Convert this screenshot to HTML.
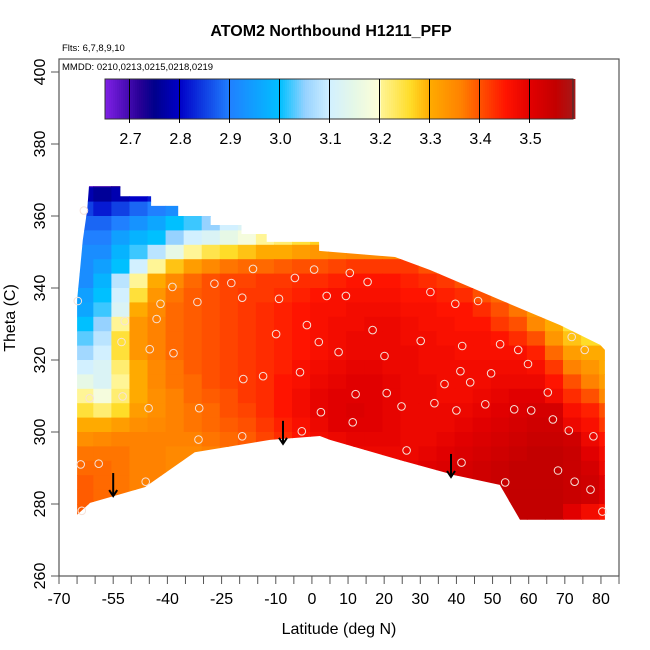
<!DOCTYPE html>
<html><head><meta charset="utf-8"><style>
html,body{margin:0;padding:0;background:#fff}
svg{display:block;font-family:"Liberation Sans",sans-serif}
</style></head><body>
<svg id="chart" width="650" height="650" viewBox="0 0 650 650"></svg>
<script>
const latEdges0 = -65.5, latStep = 5, thStep = 4;
const thetaRows = [368,364,360,356,352,348,344,340,336,332,328,324,320,316,312,308,304,300,296,292,288,284,280,276,272];
const valueGrid = [
[2.68,2.70,2.72,2.74,2.76,2.78,2.80,2.82,2.85,2.9,2.95,3.0,3.1,3.2,3.25,3.3,3.3,3.3,3.3,3.3,3.3,3.3,3.3,3.3,3.3,3.3,3.3,3.3,3.3,3.3],
[2.78,2.76,2.78,2.80,2.82,2.85,2.88,2.9,2.92,2.95,3.0,3.05,3.1,3.2,3.25,3.3,3.3,3.3,3.3,3.3,3.3,3.3,3.3,3.3,3.3,3.3,3.3,3.3,3.3,3.3],
[2.85,2.82,2.85,2.88,2.9,2.92,2.95,2.98,3.0,3.05,3.1,3.12,3.15,3.2,3.25,3.3,3.3,3.3,3.3,3.3,3.3,3.3,3.3,3.3,3.3,3.3,3.3,3.3,3.3,3.3],
[2.88,2.88,2.9,2.93,2.96,3.0,3.02,3.05,3.1,3.12,3.15,3.17,3.2,3.22,3.25,3.3,3.3,3.3,3.3,3.3,3.3,3.3,3.3,3.3,3.3,3.3,3.3,3.3,3.3,3.3],
[2.9,2.9,2.95,2.98,3.0,3.05,3.1,3.12,3.15,3.18,3.2,3.22,3.25,3.27,3.3,3.3,3.3,3.3,3.3,3.3,3.3,3.3,3.3,3.3,3.3,3.3,3.3,3.3,3.3,3.3],
[2.92,2.92,2.98,3.02,3.08,3.15,3.2,3.24,3.26,3.28,3.3,3.3,3.32,3.33,3.34,3.35,3.35,3.35,3.35,3.35,3.35,3.35,3.35,3.35,3.35,3.35,3.35,3.35,3.35,3.35],
[2.92,2.95,3.0,3.1,3.2,3.28,3.32,3.35,3.37,3.38,3.38,3.39,3.4,3.4,3.41,3.42,3.42,3.42,3.42,3.4,3.38,3.36,3.35,3.35,3.35,3.35,3.35,3.35,3.35,3.35],
[2.92,2.98,3.08,3.2,3.3,3.35,3.38,3.4,3.41,3.41,3.42,3.42,3.43,3.43,3.44,3.45,3.45,3.45,3.44,3.43,3.42,3.4,3.38,3.36,3.35,3.33,3.32,3.32,3.32,3.32],
[2.95,3.0,3.1,3.25,3.33,3.37,3.39,3.4,3.41,3.42,3.42,3.43,3.44,3.45,3.46,3.46,3.46,3.46,3.45,3.45,3.44,3.43,3.4,3.38,3.35,3.3,3.28,3.25,3.22,3.2],
[2.96,3.02,3.12,3.3,3.35,3.38,3.39,3.4,3.41,3.42,3.43,3.44,3.45,3.46,3.46,3.47,3.47,3.47,3.46,3.46,3.45,3.45,3.43,3.4,3.37,3.33,3.28,3.24,3.2,3.18],
[3.0,3.05,3.2,3.33,3.36,3.38,3.39,3.4,3.41,3.42,3.43,3.44,3.45,3.46,3.47,3.47,3.48,3.48,3.47,3.46,3.46,3.45,3.45,3.42,3.4,3.35,3.3,3.25,3.22,3.2],
[3.03,3.08,3.25,3.33,3.36,3.38,3.39,3.4,3.41,3.42,3.43,3.44,3.45,3.46,3.47,3.48,3.48,3.48,3.47,3.47,3.46,3.46,3.46,3.45,3.43,3.4,3.33,3.28,3.26,3.25],
[3.06,3.1,3.25,3.33,3.36,3.38,3.39,3.4,3.41,3.42,3.43,3.44,3.45,3.46,3.47,3.48,3.48,3.48,3.48,3.47,3.47,3.46,3.46,3.46,3.46,3.44,3.38,3.32,3.3,3.3],
[3.1,3.12,3.22,3.3,3.35,3.37,3.39,3.4,3.41,3.42,3.43,3.44,3.46,3.47,3.48,3.49,3.49,3.48,3.48,3.47,3.47,3.47,3.47,3.47,3.47,3.46,3.42,3.36,3.33,3.3],
[3.15,3.12,3.2,3.3,3.35,3.37,3.38,3.4,3.41,3.42,3.43,3.45,3.46,3.48,3.49,3.5,3.5,3.49,3.48,3.48,3.47,3.47,3.47,3.48,3.48,3.48,3.45,3.4,3.36,3.32],
[3.2,3.18,3.22,3.3,3.34,3.36,3.38,3.39,3.4,3.42,3.43,3.45,3.47,3.49,3.5,3.5,3.5,3.49,3.48,3.48,3.47,3.47,3.48,3.49,3.5,3.5,3.47,3.43,3.4,3.35],
[3.25,3.22,3.26,3.32,3.34,3.36,3.37,3.38,3.4,3.41,3.43,3.45,3.47,3.49,3.5,3.51,3.5,3.49,3.48,3.48,3.48,3.48,3.49,3.5,3.51,3.52,3.52,3.46,3.44,3.4],
[3.3,3.3,3.32,3.34,3.35,3.36,3.37,3.38,3.39,3.4,3.42,3.44,3.46,3.48,3.5,3.5,3.5,3.49,3.48,3.48,3.48,3.49,3.5,3.51,3.52,3.53,3.53,3.48,3.46,3.42],
[3.34,3.35,3.36,3.36,3.36,3.36,3.36,3.37,3.38,3.39,3.41,3.43,3.45,3.47,3.48,3.49,3.49,3.49,3.48,3.48,3.49,3.5,3.51,3.52,3.53,3.54,3.54,3.53,3.48,3.45],
[3.37,3.37,3.37,3.36,3.36,3.35,3.35,3.36,3.37,3.38,3.4,3.42,3.44,3.46,3.47,3.48,3.48,3.48,3.48,3.49,3.5,3.51,3.52,3.53,3.54,3.55,3.55,3.54,3.5,3.47],
[3.38,3.38,3.37,3.36,3.36,3.35,3.35,3.36,3.37,3.38,3.4,3.42,3.44,3.46,3.47,3.48,3.48,3.48,3.49,3.5,3.51,3.52,3.53,3.54,3.55,3.55,3.55,3.54,3.52,3.48],
[3.39,3.38,3.37,3.36,3.36,3.35,3.35,3.36,3.37,3.38,3.4,3.42,3.44,3.46,3.47,3.48,3.48,3.48,3.49,3.5,3.51,3.52,3.53,3.54,3.55,3.55,3.55,3.54,3.53,3.5],
[3.39,3.38,3.37,3.36,3.36,3.35,3.35,3.36,3.37,3.38,3.4,3.42,3.44,3.46,3.47,3.48,3.48,3.48,3.49,3.5,3.51,3.52,3.53,3.54,3.55,3.55,3.55,3.54,3.53,3.5],
[3.39,3.38,3.37,3.36,3.36,3.35,3.35,3.36,3.37,3.38,3.4,3.42,3.44,3.46,3.47,3.48,3.48,3.48,3.49,3.5,3.51,3.52,3.53,3.54,3.55,3.55,3.55,3.5,3.47,3.45],
[3.39,3.38,3.37,3.36,3.36,3.35,3.35,3.36,3.37,3.38,3.4,3.42,3.44,3.46,3.47,3.48,3.48,3.48,3.49,3.5,3.51,3.52,3.53,3.54,3.55,3.55,3.55,3.5,3.47,3.45]
];
const boundaryLat = [-65,-65,-64.2,-63.4,-62.2,-61.7,-53,-53,-44.5,-44.5,-37,-37,-28,-28,-19.5,-19.5,-12.5,-12.5,2,2,23,32.7,52.1,68.7,79.8,81.1,81.1,57.6,52,39.6,24.4,5,2.2,-11.6,-32.4,-46.2,-61.4,-65];
const boundaryTheta = [277,336.7,345,353.3,361.7,368.3,368.3,365.5,365.5,362.8,362.8,360,360,357.5,357.5,355,355,352.8,352.8,350.3,348.6,345,336.7,329.7,324.2,322.8,275.6,275.6,285.3,288,292.2,297.8,298.9,297.8,294.4,284.7,280.3,277];
const pointLat = [-63.1,-64.8,-61.5,-64,-59,-63.7,-52.7,-51.8,-52.4,-44.9,-45.2,-46,-38.3,-43,-41.9,-38.6,-31.7,-31.2,-31.4,-27,-22.3,-19.3,-19,-19.3,-16.3,-13.5,-9.9,-9.1,-4.7,-3.3,-2.8,-1.4,0.6,1.9,2.5,4.1,7.4,9.4,10.5,11.3,12.1,15.4,16.8,20.1,20.7,24.8,26.2,30.1,32.8,33.9,36.7,39.7,40,41.6,41.4,43.8,46,49.6,52.1,53.5,57.1,56,59.8,60.7,65.3,66.7,68.1,71.1,71.9,72.7,75.5,77.1,77.9,80.4,41.1,48];
const pointTheta = [361.5,336.4,309.4,291,291.2,278.1,325,330.8,309.9,323,306.6,286.2,321.9,331.4,335.6,340.3,336.1,306.6,297.9,341.2,341.4,337.3,314.7,298.8,345.3,315.5,327.2,337,342.8,316.6,300.2,329.7,345.1,325,305.5,337.8,322.2,337.8,344.2,302.7,310.5,341.7,328.3,321.1,310.8,307.1,294.9,325.3,338.9,308,313.3,335.6,306,323.9,291.5,313.8,336.4,316.3,324.4,286,322.8,306.3,318.9,306,311,303.5,289.3,300.4,326.4,286.2,322.8,284,298.8,277.9,316.9,307.7];
const arrowLat = [-55,-8,38.5];
const arrowTop = [288.6,303.1,293.9];
const arrowBottom = [282.2,296.7,287.5];
const xTicks = [-70,-65,-60,-55,-50,-45,-40,-35,-30,-25,-20,-15,-10,-5,0,5,10,15,20,25,30,35,40,45,50,55,60,65,70,75,80,85];
const xLabels = [-70,-55,-40,-25,-10,0,10,20,30,40,50,60,70,80];
const yTicks = [260,280,300,320,340,360,380,400];
const cbTicks = [2.7,2.8,2.9,3.0,3.1,3.2,3.3,3.4,3.5];

const NS='http://www.w3.org/2000/svg';
const svg=document.getElementById('chart');
function mk(tag,attrs,parent){const e=document.createElementNS(NS,tag);for(const k in attrs)e.setAttribute(k,attrs[k]);(parent||svg).appendChild(e);return e;}
const xS = lat => 59 + (lat + 70) * 3.613;
const yS = th => 576 - (th - 260) * 3.6;
const cbMin = 2.651, cbMax = 3.588;
const cbX = v => 105 + (v - cbMin) * 500;
const stops=[[2.651,[128,32,230]],[2.72,[40,0,150]],[2.75,[0,0,140]],[2.8,[0,0,200]],[2.9,[32,128,255]],[3.0,[0,192,255]],[3.05,[150,210,255]],[3.1,[210,240,255]],[3.15,[230,248,230]],[3.199,[255,255,215]],[3.2,[255,245,150]],[3.26,[255,220,40]],[3.3,[255,170,0]],[3.36,[255,130,0]],[3.4,[255,80,0]],[3.45,[255,20,0]],[3.5,[225,0,0]],[3.55,[195,0,0]],[3.588,[165,25,25]]];
function col(v){if(v<=stops[0][0])return 'rgb('+stops[0][1]+')';for(let i=1;i<stops.length;i++){if(v<=stops[i][0]){const a=stops[i-1],b=stops[i];const t=(v-a[0])/(b[0]-a[0]);return 'rgb('+a[1].map((c,j)=>Math.round(c+(b[1][j]-c)*t)).join(',')+')';}}return 'rgb('+stops[stops.length-1][1]+')';}

let t=mk('text',{x:331,y:36,'text-anchor':'middle','font-size':16,'font-weight':'bold'});t.textContent='ATOM2 Northbound H1211_PFP';

t=mk('text',{x:62,y:51,'font-size':9.5});t.textContent='Flts: 6,7,8,9,10';


const defs=mk('defs',{});
const cp=mk('clipPath',{id:'clip'},defs);
mk('polygon',{points:boundaryLat.map((l,i)=>xS(l).toFixed(1)+','+yS(boundaryTheta[i]).toFixed(1)).join(' ')},cp);
const hm=mk('g',{'clip-path':'url(#clip)'});


thetaRows.forEach((th,r)=>{valueGrid[r].forEach((v,c)=>{
  const l0=latEdges0+c*latStep;
  const e=mk('rect',{x:xS(l0).toFixed(2),y:yS(th+thStep).toFixed(2),width:(latStep*3.613+0.6).toFixed(2),height:(thStep*3.6+0.6).toFixed(2),fill:col(v)},hm);
  
  
});});

pointLat.forEach((l,i)=>{const e=mk('circle',{cx:xS(l).toFixed(1),cy:yS(pointTheta[i]).toFixed(1),r:3.8,fill:'none',stroke:'#f6e2d8','stroke-width':1});
  
  
});
arrowLat.forEach((l,i)=>{const g=mk('g',{stroke:'#000','stroke-width':2,fill:'none'});
  
  
  const x=xS(l),y1=yS(arrowTop[i]),y2=yS(arrowBottom[i]);
  mk('line',{x1:x,y1:y1,x2:x,y2:y2},g);
  mk('polyline',{points:(x-4)+','+(y2-6)+' '+x+','+y2+' '+(x+4)+','+(y2-6)},g);
});

const box=mk('rect',{x:59,y:59,width:560,height:517,fill:'none',stroke:'#555','stroke-width':1.2});

t=mk('text',{x:62,y:70,'font-size':9.5});t.textContent='MMDD: 0210,0213,0215,0218,0219';


const cb=mk('g',{});
for(let i=0;i<235;i++){const v=cbMin+(i+0.5)*(cbMax-cbMin)/235;mk('rect',{x:(105+i*2).toFixed(1),y:79,width:2.4,height:40,fill:col(v)},cb);}
mk('rect',{x:105,y:79,width:468,height:40,fill:'none',stroke:'#333','stroke-width':1},cb);
cbTicks.forEach(v=>{mk('line',{x1:cbX(v),y1:79,x2:cbX(v),y2:123,stroke:'#000','stroke-width':1},cb);
  const e=mk('text',{x:cbX(v)+1,y:144,'text-anchor':'middle','font-size':16},cb);e.textContent=v.toFixed(1);
  
  
});

const ax=mk('g',{stroke:'#555','stroke-width':1});
xTicks.forEach(v=>mk('line',{x1:xS(v),y1:576,x2:xS(v),y2:584},ax));
yTicks.forEach(v=>mk('line',{x1:51,y1:yS(v),x2:59,y2:yS(v)},ax));
xLabels.forEach(v=>{const e=mk('text',{x:xS(v),y:604,'text-anchor':'middle','font-size':16});e.textContent=v;
  
  
});
yTicks.forEach(v=>{const e=mk('text',{x:0,y:0,'text-anchor':'middle','font-size':16,transform:'translate(45,'+yS(v)+') rotate(-90)'});e.textContent=v;
  
  
});
t=mk('text',{x:339,y:634,'text-anchor':'middle','font-size':16});t.textContent='Latitude (deg N)';

t=mk('text',{x:0,y:0,'text-anchor':'middle','font-size':16,transform:'translate(15,318) rotate(-90)'});t.textContent='Theta (C)';

</script>
</body></html>
